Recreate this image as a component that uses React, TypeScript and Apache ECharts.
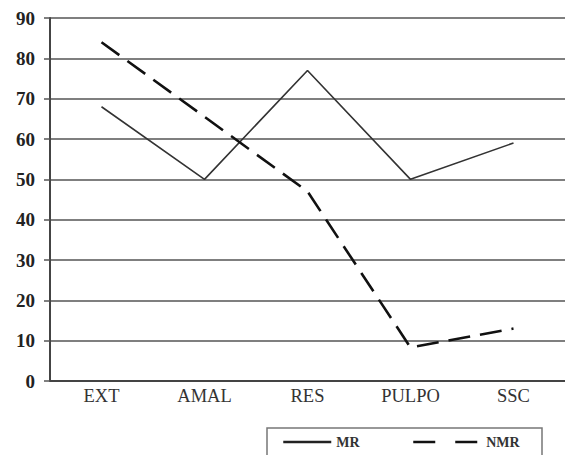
import React, { useEffect, useRef } from "react";
import * as echarts from "echarts";

const categories = ["EXT", "AMAL", "RES", "PULPO", "SSC"];
const mrValues = [68, 50, 77, 50, 59];
const nmrValues = [84, 65.5, 47, 8.3, 13];
const seriesNames = ["MR", "NMR"];

export default function App() {
  const ref = useRef<HTMLDivElement>(null);
  useEffect(() => {
    document.body.style.margin = "0";
    const chart = echarts.init(ref.current!, null, { renderer: "svg" });
    const serif = "Liberation Serif";
    const legendText = { fontFamily: serif, fontSize: 14, fontWeight: "bold", color: "#333" };
    chart.setOption({
      animation: false,
      backgroundColor: "#ffffff",
      grid: { left: 50, top: 18, width: 522, height: 363 },
      xAxis: {
        type: "category",
        data: categories,
        boundaryGap: true,
        axisLine: { show: true, lineStyle: { color: "#444", width: 2 } },
        axisTick: { show: false },
        axisLabel: { color: "#333", fontSize: 18.5, fontFamily: serif, margin: 5 },
        splitLine: { show: false },
      },
      yAxis: {
        type: "value",
        min: 0,
        max: 90,
        interval: 10,
        axisLine: { show: true, lineStyle: { color: "#444", width: 2 } },
        axisTick: { show: true, length: 6, lineStyle: { color: "#555", width: 1.5 } },
        axisLabel: {
          color: "#222",
          fontSize: 19,
          fontWeight: "bold",
          fontFamily: serif,
          margin: 15,
        },
        splitLine: { show: true, lineStyle: { color: "#555", width: 1.5 } },
      },
      legend: [
        {
          data: [seriesNames[0]],
          left: 282,
          top: 435,
          itemWidth: 48,
          itemHeight: 14,
          itemGap: 5,
          padding: 0,
          itemStyle: { opacity: 0 },
          lineStyle: { width: 2.5, color: "#222" },
          textStyle: legendText,
        },
        {
          data: [seriesNames[1]],
          left: 412,
          top: 435,
          itemWidth: 68,
          itemHeight: 14,
          padding: 0,
          itemStyle: { opacity: 0 },
          lineStyle: { width: 2.5, color: "#111", type: [22, 20] },
          textStyle: legendText,
        },
      ],
      graphic: [
        {
          type: "rect",
          shape: { x: 267, y: 428, width: 275, height: 40 },
          style: { fill: "none", stroke: "#777", lineWidth: 1.5 },
          silent: true,
        },
      ],
      series: [
        {
          name: seriesNames[0],
          type: "line",
          data: mrValues,
          symbol: "none",
          lineStyle: { color: "#333", width: 1.6, type: "solid" },
          itemStyle: { color: "#333" },
        },
        {
          name: seriesNames[1],
          type: "line",
          data: nmrValues,
          symbol: "none",
          lineStyle: { color: "#111", width: 2.6, type: [22, 10] },
          itemStyle: { color: "#111" },
        },
      ],
    });
    return () => chart.dispose();
  }, []);
  return <div ref={ref} style={{ width: 565, height: 455 }} />;
}
